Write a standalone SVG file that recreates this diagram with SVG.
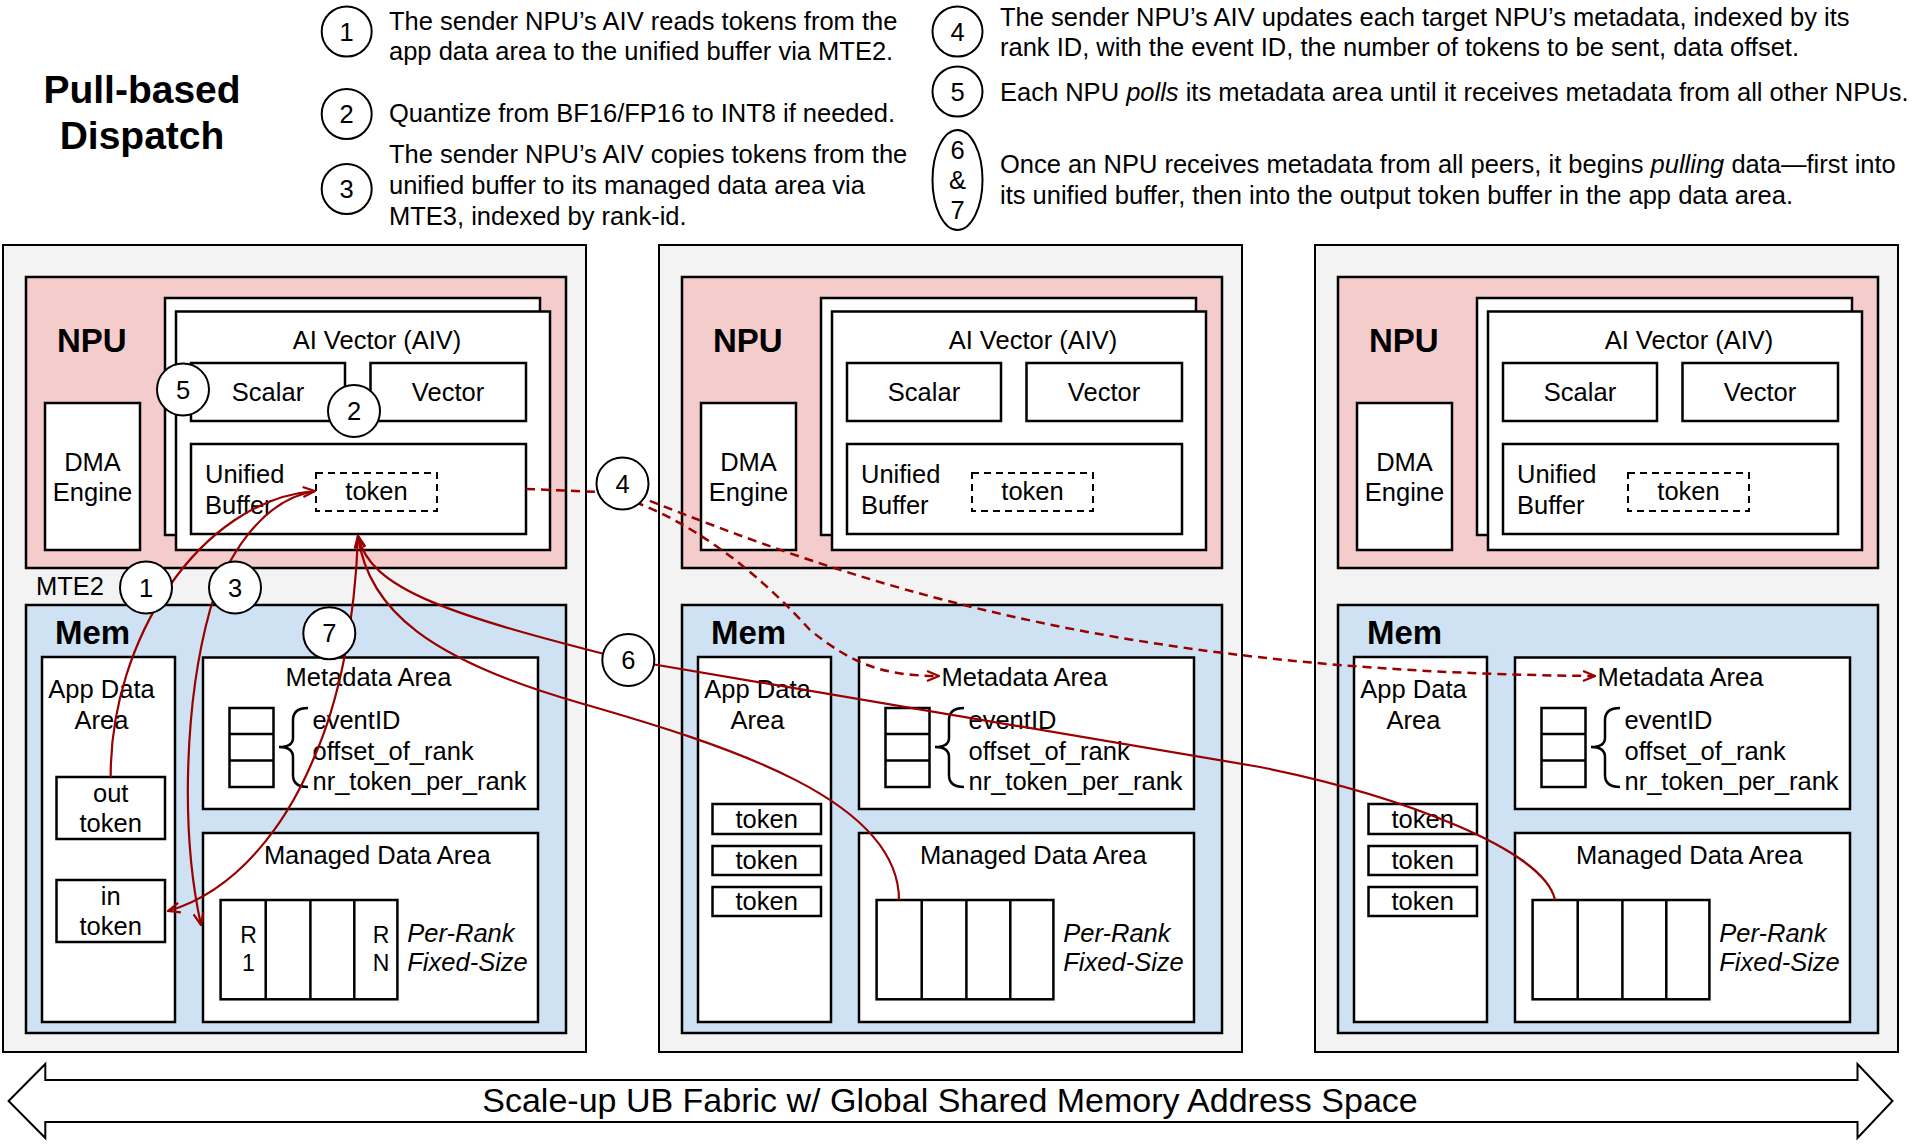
<svg xmlns="http://www.w3.org/2000/svg" width="1920" height="1145" viewBox="0 0 1920 1145">
<style>
text { font-family: "Liberation Sans", Arial, sans-serif; font-size: 25.5px; fill: #000; }
.c { text-anchor: middle; }
.b { font-weight: bold; font-size: 33px; }
.t { font-weight: bold; font-size: 39px; text-anchor: middle; }
.i { font-style: italic; }
.s { font-size: 23px; }
.panel { fill: #f3f3f3; stroke: #000; stroke-width: 2; }
.npu { fill: #f4cccc; stroke: #000; stroke-width: 2.5; }
.mem { fill: #cfe2f3; stroke: #000; stroke-width: 2.5; }
.box { fill: #fff; stroke: #000; stroke-width: 2.5; }
.dash { fill: none; stroke: #000; stroke-width: 2; stroke-dasharray: 7 5; }
.ln { fill: none; stroke: #000; stroke-width: 2.5; }
.red { fill: none; stroke: #990000; stroke-width: 2.2; }
.rdash { fill: none; stroke: #990000; stroke-width: 2.5; stroke-dasharray: 9 6; }
.step { fill: #fff; stroke: #000; stroke-width: 2; }
.leg { fill: none; stroke: #000; stroke-width: 2; }
.fab { fill: #fff; stroke: #000; stroke-width: 2; }
</style>
<defs>
<marker id="arr" viewBox="0 0 14 12" refX="13" refY="6" markerWidth="14" markerHeight="12" markerUnits="userSpaceOnUse" orient="auto-start-reverse">
<path d="M1,1 L13,6 L1,11" fill="none" stroke="#990000" stroke-width="2.2" stroke-dasharray="none"/>
</marker>
</defs>
<rect x="0" y="0" width="1920" height="1145" fill="#fff"/>

<g id="title">
<text class="t" x="142" y="103">Pull-based</text>
<text class="t" x="142" y="149">Dispatch</text>
</g>

<g id="legend">
<g id="leg1">
<circle class="leg" cx="346.7" cy="31.5" r="25"/><text class="c" x="346.7" y="40.5">1</text>
<text x="389" y="29.5">The sender NPU’s AIV reads tokens from the</text>
<text x="389" y="60">app data area to the unified buffer via MTE2.</text>
</g>
<g id="leg2">
<circle class="leg" cx="346.7" cy="114" r="25"/><text class="c" x="346.7" y="123">2</text>
<text x="389" y="122">Quantize from BF16/FP16 to INT8 if needed.</text>
</g>
<g id="leg3">
<circle class="leg" cx="346.7" cy="189" r="25"/><text class="c" x="346.7" y="198">3</text>
<text x="389" y="163">The sender NPU’s AIV copies tokens from the</text>
<text x="389" y="194">unified buffer to its managed data area via</text>
<text x="389" y="224.5">MTE3, indexed by rank-id.</text>
</g>
<g id="leg4">
<circle class="leg" cx="957.5" cy="31.5" r="25"/><text class="c" x="957.5" y="40.5">4</text>
<text x="1000" y="25.5">The sender NPU’s AIV updates each target NPU’s metadata, indexed by its</text>
<text x="1000" y="56">rank ID, with the event ID, the number of tokens to be sent, data offset.</text>
</g>
<g id="leg5">
<circle class="leg" cx="957.5" cy="91.5" r="25"/><text class="c" x="957.5" y="100.5">5</text>
<text x="1000" y="100.5">Each NPU <tspan class="i">polls</tspan> its metadata area until it receives metadata from all other NPUs.</text>
</g>
<g id="leg67">
<ellipse class="leg" cx="957.5" cy="180" rx="25" ry="50"/>
<text class="c" x="957.5" y="159">6</text><text class="c" x="957.5" y="189">&amp;</text><text class="c" x="957.5" y="219">7</text>
<text x="1000" y="172.5">Once an NPU receives metadata from all peers, it begins <tspan class="i">pulling</tspan> data—first into</text>
<text x="1000" y="203.5">its unified buffer, then into the output token buffer in the app data area.</text>
</g>
</g>

<!-- Panel 1 -->
<g id="panel1">
<rect class="panel" x="3" y="245" width="583" height="807"/>
<g id="npu1"><rect class="npu" x="26" y="277" width="540" height="291"/><text class="b" x="57" y="352">NPU</text></g>
<g id="dma1"><rect class="box" x="45" y="403" width="95" height="147"/><text class="c" x="92.5" y="470.5">DMA</text><text class="c" x="92.5" y="500.5">Engine</text></g>
<g id="aiv1"><rect class="box" x="165" y="298" width="375" height="237"/><rect class="box" x="176" y="311.5" width="374" height="238.5"/><text class="c" x="377" y="349">AI Vector (AIV)</text></g>
<g id="scalar1"><rect class="box" x="191" y="363" width="154" height="58"/><text class="c" x="268" y="401">Scalar</text></g>
<g id="vector1"><rect class="box" x="370.5" y="363" width="155.5" height="58"/><text class="c" x="448" y="401">Vector</text></g>
<g id="ub1"><rect class="box" x="191" y="444" width="335" height="90"/><text x="205" y="483">Unified</text><text x="205" y="513.5">Buffer</text><rect class="dash" x="316" y="473" width="121" height="38"/><text class="c" x="376.5" y="500">token</text></g>
<text x="36" y="595">MTE2</text>
<g id="mem1"><rect class="mem" x="26" y="605" width="540" height="428"/><text class="b" x="55" y="644">Mem</text></g>
<g id="app1"><rect class="box" x="42" y="657" width="133" height="365"/><text class="c" x="101.5" y="698">App Data</text><text class="c" x="101.5" y="728.5">Area</text>
<rect class="box" x="56.5" y="777" width="108.5" height="62"/><text class="c" x="110.7" y="802">out</text><text class="c" x="110.7" y="832">token</text>
<rect class="box" x="56.5" y="880" width="108.5" height="62"/><text class="c" x="110.7" y="905">in</text><text class="c" x="110.7" y="934.5">token</text></g>
<g id="meta1"><rect class="box" x="203" y="657.5" width="335" height="151.5"/><text class="c" x="368.5" y="686">Metadata Area</text>
<rect class="box" x="229.5" y="708" width="44" height="79"/><path class="ln" d="M229.5,734 H273.5 M229.5,760.5 H273.5"/>
<path class="ln" d="M308,708 C298,708 293,712 293,720 L293,738 C293,744 289,747 279,747 C289,747 293,751 293,757 L293,775 C293,783 298,787 308,787"/>
<text x="312.5" y="729">eventID</text><text x="312.5" y="759.5">offset_of_rank</text><text x="312.5" y="790">nr_token_per_rank</text></g>
<g id="mda1"><rect class="box" x="203" y="833" width="335" height="189"/><text class="c" x="377.3" y="863.5">Managed Data Area</text>
<rect class="box" x="220.6" y="900" width="176.8" height="99.3"/><path class="ln" d="M265.7,900 V999.3 M310.4,900 V999.3 M354.3,900 V999.3"/>
<text class="c s" x="248.5" y="942.5">R</text><text class="c s" x="248.5" y="971">1</text><text class="c s" x="381" y="942.5">R</text><text class="c s" x="381" y="971">N</text>
<text class="i" x="407.3" y="942">Per-Rank</text><text class="i" x="407.3" y="971">Fixed-Size</text></g>
</g>

<!-- Panel 2 -->
<g id="panel2" transform="translate(656,0)">
<rect class="panel" x="3" y="245" width="583" height="807"/>
<g id="npu2"><rect class="npu" x="26" y="277" width="540" height="291"/><text class="b" x="57" y="352">NPU</text></g>
<g id="dma2"><rect class="box" x="45" y="403" width="95" height="147"/><text class="c" x="92.5" y="470.5">DMA</text><text class="c" x="92.5" y="500.5">Engine</text></g>
<g id="aiv2"><rect class="box" x="165" y="298" width="375" height="237"/><rect class="box" x="176" y="311.5" width="374" height="238.5"/><text class="c" x="377" y="349">AI Vector (AIV)</text></g>
<g id="scalar2"><rect class="box" x="191" y="363" width="154" height="58"/><text class="c" x="268" y="401">Scalar</text></g>
<g id="vector2"><rect class="box" x="370.5" y="363" width="155.5" height="58"/><text class="c" x="448" y="401">Vector</text></g>
<g id="ub2"><rect class="box" x="191" y="444" width="335" height="90"/><text x="205" y="483">Unified</text><text x="205" y="513.5">Buffer</text><rect class="dash" x="316" y="473" width="121" height="38"/><text class="c" x="376.5" y="500">token</text></g>
<g id="mem2"><rect class="mem" x="26" y="605" width="540" height="428"/><text class="b" x="55" y="644">Mem</text></g>
<g id="app2"><rect class="box" x="42" y="657" width="133" height="365"/><text class="c" x="101.5" y="698">App Data</text><text class="c" x="101.5" y="728.5">Area</text>
<rect class="box" x="56.5" y="804" width="108.5" height="30"/><text class="c" x="110.7" y="827.5">token</text>
<rect class="box" x="56.5" y="846" width="108.5" height="29"/><text class="c" x="110.7" y="869">token</text>
<rect class="box" x="56.5" y="887" width="108.5" height="29"/><text class="c" x="110.7" y="910">token</text></g>
<g id="meta2"><rect class="box" x="203" y="657.5" width="335" height="151.5"/><text class="c" x="368.5" y="686">Metadata Area</text>
<rect class="box" x="229.5" y="708" width="44" height="79"/><path class="ln" d="M229.5,734 H273.5 M229.5,760.5 H273.5"/>
<path class="ln" d="M308,708 C298,708 293,712 293,720 L293,738 C293,744 289,747 279,747 C289,747 293,751 293,757 L293,775 C293,783 298,787 308,787"/>
<text x="312.5" y="729">eventID</text><text x="312.5" y="759.5">offset_of_rank</text><text x="312.5" y="790">nr_token_per_rank</text></g>
<g id="mda2"><rect class="box" x="203" y="833" width="335" height="189"/><text class="c" x="377.3" y="863.5">Managed Data Area</text>
<rect class="box" x="220.6" y="900" width="176.8" height="99.3"/><path class="ln" d="M265.7,900 V999.3 M310.4,900 V999.3 M354.3,900 V999.3"/>
<text class="i" x="407.3" y="942">Per-Rank</text><text class="i" x="407.3" y="971">Fixed-Size</text></g>
</g>

<!-- Panel 3 -->
<g id="panel3" transform="translate(1312,0)">
<rect class="panel" x="3" y="245" width="583" height="807"/>
<g id="npu3"><rect class="npu" x="26" y="277" width="540" height="291"/><text class="b" x="57" y="352">NPU</text></g>
<g id="dma3"><rect class="box" x="45" y="403" width="95" height="147"/><text class="c" x="92.5" y="470.5">DMA</text><text class="c" x="92.5" y="500.5">Engine</text></g>
<g id="aiv3"><rect class="box" x="165" y="298" width="375" height="237"/><rect class="box" x="176" y="311.5" width="374" height="238.5"/><text class="c" x="377" y="349">AI Vector (AIV)</text></g>
<g id="scalar3"><rect class="box" x="191" y="363" width="154" height="58"/><text class="c" x="268" y="401">Scalar</text></g>
<g id="vector3"><rect class="box" x="370.5" y="363" width="155.5" height="58"/><text class="c" x="448" y="401">Vector</text></g>
<g id="ub3"><rect class="box" x="191" y="444" width="335" height="90"/><text x="205" y="483">Unified</text><text x="205" y="513.5">Buffer</text><rect class="dash" x="316" y="473" width="121" height="38"/><text class="c" x="376.5" y="500">token</text></g>
<g id="mem3"><rect class="mem" x="26" y="605" width="540" height="428"/><text class="b" x="55" y="644">Mem</text></g>
<g id="app3"><rect class="box" x="42" y="657" width="133" height="365"/><text class="c" x="101.5" y="698">App Data</text><text class="c" x="101.5" y="728.5">Area</text>
<rect class="box" x="56.5" y="804" width="108.5" height="30"/><text class="c" x="110.7" y="827.5">token</text>
<rect class="box" x="56.5" y="846" width="108.5" height="29"/><text class="c" x="110.7" y="869">token</text>
<rect class="box" x="56.5" y="887" width="108.5" height="29"/><text class="c" x="110.7" y="910">token</text></g>
<g id="meta3"><rect class="box" x="203" y="657.5" width="335" height="151.5"/><text class="c" x="368.5" y="686">Metadata Area</text>
<rect class="box" x="229.5" y="708" width="44" height="79"/><path class="ln" d="M229.5,734 H273.5 M229.5,760.5 H273.5"/>
<path class="ln" d="M308,708 C298,708 293,712 293,720 L293,738 C293,744 289,747 279,747 C289,747 293,751 293,757 L293,775 C293,783 298,787 308,787"/>
<text x="312.5" y="729">eventID</text><text x="312.5" y="759.5">offset_of_rank</text><text x="312.5" y="790">nr_token_per_rank</text></g>
<g id="mda3"><rect class="box" x="203" y="833" width="335" height="189"/><text class="c" x="377.3" y="863.5">Managed Data Area</text>
<rect class="box" x="220.6" y="900" width="176.8" height="99.3"/><path class="ln" d="M265.7,900 V999.3 M310.4,900 V999.3 M354.3,900 V999.3"/>
<text class="i" x="407.3" y="942">Per-Rank</text><text class="i" x="407.3" y="971">Fixed-Size</text></g>
</g>

<!-- Fabric -->
<g id="fabric">
<polygon class="fab" points="8.6,1101 45.3,1064 45.3,1080 1857.5,1080 1857.5,1064 1892.5,1101 1857.5,1138 1857.5,1122 45.3,1122 45.3,1138"/>
<text class="c" x="950" y="1112" style="font-size:34px">Scale-up UB Fabric w/ Global Shared Memory Address Space</text>
</g>

<!-- Connectors -->
<g id="connectors">
<path id="c1" class="red" d="M110.7,777 C110,640 200,500 315,491" marker-end="url(#arr)"/>
<path id="c3" class="red" d="M315,491 C260,500 225,560 210,610 C185,700 180,830 201,925" marker-end="url(#arr)"/>
<path id="c7" class="red" d="M358,536 C355,620 340,700 313,760 C288,820 240,890 168,911" marker-end="url(#arr)"/>
<path id="c6a" class="red" d="M358,536 C370,590 450,615 628,660 L1260,767 C1400,795 1545,850 1555,900" marker-start="url(#arr)"/>
<path id="c6b" class="red" d="M358,536 C368,610 430,660 580,703 C730,746 899,800 899,900" marker-start="url(#arr)"/>
<path id="c4a" class="rdash" d="M526,489 L600,492"/>
<path id="c4b" class="rdash" d="M622,494 L640,504 C705,530 765,580 810,630 C850,662 880,676 939,676" marker-end="url(#arr)"/>
<path id="c4c" class="rdash" d="M622,490 L640,497 C850,580 1100,672 1595,676" marker-end="url(#arr)"/>
</g>

<!-- Step markers -->
<g id="steps">
<g id="s5"><circle class="step" cx="183" cy="389.5" r="26"/><text class="c" x="183" y="398.5">5</text></g>
<g id="s2"><circle class="step" cx="354" cy="411" r="26"/><text class="c" x="354" y="420">2</text></g>
<g id="s1"><circle class="step" cx="146" cy="587.5" r="26"/><text class="c" x="146" y="596.5">1</text></g>
<g id="s3"><circle class="step" cx="235" cy="587.5" r="26"/><text class="c" x="235" y="596.5">3</text></g>
<g id="s7"><circle class="step" cx="329.3" cy="633.3" r="26"/><text class="c" x="329.3" y="642.3">7</text></g>
<g id="s4"><circle class="step" cx="622.5" cy="483.5" r="26"/><text class="c" x="622.5" y="492.5">4</text></g>
<g id="s6"><circle class="step" cx="628.3" cy="660" r="26"/><text class="c" x="628.3" y="669">6</text></g>
</g>
</svg>
